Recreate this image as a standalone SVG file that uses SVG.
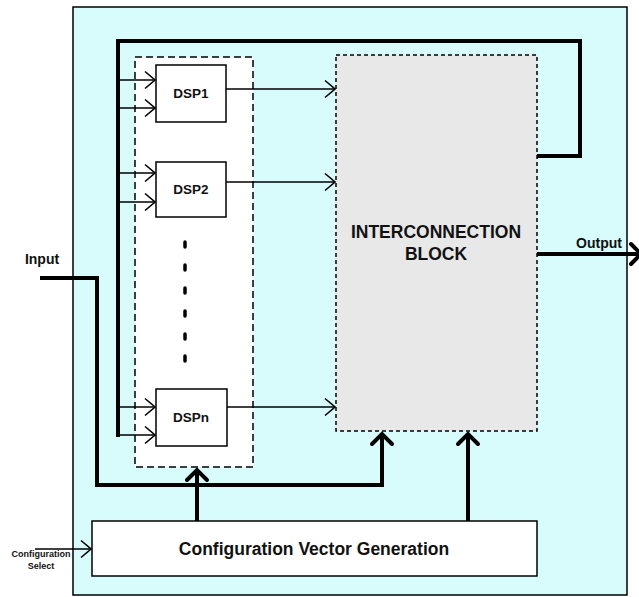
<svg xmlns="http://www.w3.org/2000/svg" width="639" height="597" viewBox="0 0 639 597">
<defs>
<style>
text{font-family:"Liberation Sans",Arial,Helvetica,sans-serif;font-weight:bold;fill:#111;text-anchor:middle}
.thin{stroke:#000;stroke-width:1.5;fill:none}
.thick{stroke:#000;stroke-width:4;fill:none;stroke-linejoin:miter}
.box{fill:#fff;stroke:#000;stroke-width:1.5}
</style>
<marker id="ah" viewBox="0 0 12 20" refX="11" refY="10" markerWidth="12" markerHeight="20" markerUnits="userSpaceOnUse" orient="auto">
<path d="M1,1.5 L11,10 L1,18.5" fill="none" stroke="#000" stroke-width="1.6"/>
</marker>
<marker id="ahT" viewBox="0 0 16 26" refX="14" refY="13" markerWidth="16" markerHeight="26" markerUnits="userSpaceOnUse" orient="auto">
<path d="M3,3 L13,13 L3,23" fill="none" stroke="#000" stroke-width="4" stroke-linecap="round" stroke-linejoin="miter"/>
</marker>
</defs>
<g id="outer">
<rect x="73" y="7" width="554" height="588" fill="#d8fcfc" stroke="#000" stroke-width="1.5"/>
</g>
<g id="dsp-group">
<rect x="135" y="57" width="118" height="410" fill="#fff" stroke="#000" stroke-width="1.5" stroke-dasharray="7,4"/>
</g>
<g id="interconnect">
<rect x="336" y="55" width="201" height="376" fill="#e8e8e8" stroke="#000" stroke-width="1.5" stroke-dasharray="4,3"/>
<text x="436" y="238" font-size="17.5">INTERCONNECTION</text>
<text x="436" y="260" font-size="17.5">BLOCK</text>
</g>
<g id="connectors">
<polyline class="thick" points="118,437 118,41 580,41 580,156 537,156"/>
<line class="thin" x1="118" y1="80" x2="155" y2="80" marker-end="url(#ah)"/>
<line class="thin" x1="118" y1="108" x2="155" y2="108" marker-end="url(#ah)"/>
<line class="thin" x1="118" y1="173" x2="155" y2="173" marker-end="url(#ah)"/>
<line class="thin" x1="118" y1="202" x2="155" y2="202" marker-end="url(#ah)"/>
<line class="thin" x1="118" y1="407" x2="155" y2="407" marker-end="url(#ah)"/>
<line class="thin" x1="118" y1="435" x2="155" y2="435" marker-end="url(#ah)"/>
<line class="thin" x1="226" y1="89" x2="335" y2="89" marker-end="url(#ah)"/>
<line class="thin" x1="226" y1="182" x2="335" y2="182" marker-end="url(#ah)"/>
<line class="thin" x1="227" y1="407" x2="335" y2="407" marker-end="url(#ah)"/>
<polyline class="thick" points="40,278 97,278 97,485 382,485 382,433" marker-end="url(#ahT)"/>
<line class="thick" x1="197" y1="521" x2="197" y2="469" marker-end="url(#ahT)"/>
<line class="thick" x1="468" y1="521" x2="468" y2="433" marker-end="url(#ahT)"/>
<line class="thick" x1="537" y1="254" x2="642" y2="254" marker-end="url(#ahT)"/>
<line class="thin" x1="35" y1="549" x2="91" y2="549" marker-end="url(#ah)"/>
</g>
<g id="dsp1">
<rect class="box" x="156" y="65" width="70" height="57"/>
<text x="191" y="98" font-size="13.5">DSP1</text>
</g>
<g id="dsp2">
<rect class="box" x="156" y="162" width="70" height="55"/>
<text x="191" y="194" font-size="13.5">DSP2</text>
</g>
<g id="dots">
<g stroke="#000" stroke-width="3.5" stroke-linecap="round">
<line x1="185" y1="242" x2="185" y2="247"/>
<line x1="185" y1="265" x2="185" y2="270"/>
<line x1="185" y1="288" x2="185" y2="293"/>
<line x1="185" y1="311" x2="185" y2="316"/>
<line x1="185" y1="334" x2="185" y2="339"/>
<line x1="185" y1="356" x2="185" y2="361"/>
</g>
</g>
<g id="dspn">
<rect class="box" x="156" y="389" width="71" height="57"/>
<text x="191" y="422" font-size="13.5">DSPn</text>
</g>
<g id="config">
<rect class="box" x="92" y="521" width="445" height="55"/>
<text x="314" y="555" font-size="17.5">Configuration Vector Generation</text>
</g>
<g id="labels">
<text x="42" y="264" font-size="14">Input</text>
<text x="599" y="248" font-size="14">Output</text>
<text x="41" y="557" font-size="9">Configuration</text>
<text x="41" y="569" font-size="9">Select</text>
</g>
</svg>
